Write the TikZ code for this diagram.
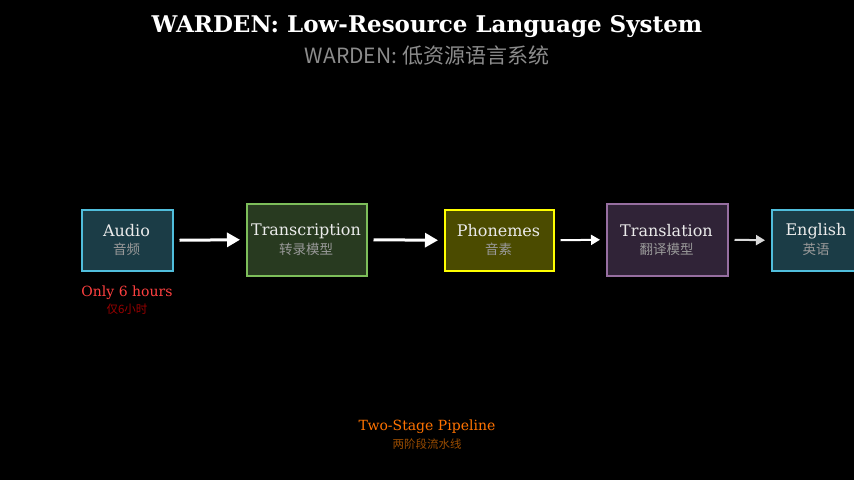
\documentclass[tikz,border=0pt]{standalone}
\usepackage{fontspec}
\setmainfont{DejaVu Serif}
\newfontfamily\cjk{Noto Sans CJK SC}
\usetikzlibrary{arrows.meta}
\definecolor{ab}{RGB}{80,190,220}\definecolor{af}{RGB}{27,60,70}
\definecolor{tb}{RGB}{125,190,90}\definecolor{tf}{RGB}{40,58,32}
\definecolor{pb}{RGB}{255,255,0}\definecolor{pf}{RGB}{75,75,0}
\definecolor{rb}{RGB}{150,110,160}\definecolor{rf}{RGB}{48,35,55}
\begin{document}
\begin{tikzpicture}[x=1pt,y=-1pt,
  box/.style={draw=#1,line width=1.5pt,inner sep=0pt,anchor=north west},
  lbl/.style={text=white!92!black,font=\fontsize{16}{18}\selectfont},
  sub/.style={text=gray!80!white,font=\cjk\fontsize{13.5}{15}\selectfont},
  arr/.style={draw=white,-{Triangle[length=13pt,width=14pt]},line width=3pt},
  arr2/.style={draw=white,-{Triangle[length=9pt,width=10pt]},line width=2pt}]
\fill[black] (0,0) rectangle (854,480);
\useasboundingbox (0,0) rectangle (854,480);
\node[font=\bfseries\fontsize{23}{26}\selectfont,text=white] (t) at (427,27) {WARDEN: Low-Resource Language System};
\node[font=\cjk\fontsize{21}{24}\selectfont,text=gray!90!white] (st) at (427,56) {WARDEN: 低资源语言系统};
\node[box=ab,fill=af,minimum width=91pt,minimum height=61pt] (a) at (81,209) {};
\node[box=tb,fill=tf,minimum width=120pt,minimum height=72pt] (b) at (246,203) {};
\node[box=pb,fill=pf,minimum width=109pt,minimum height=61pt] (c) at (444,209) {};
\node[box=rb,fill=rf,minimum width=121pt,minimum height=72pt] (d) at (606,203) {};
\node[box=ab,fill=af,minimum width=90pt,minimum height=61pt] (e) at (771,209) {};
\foreach \n/\x/\m/\s in {a/126.5/Audio/音频,b/306/Transcription/转录模型,c/498.5/Phonemes/音素,d/666.5/Translation/翻译模型,e/816/English/英语}{
  \node[lbl] at (\x,231) {\m};
  \node[sub] at (\x,249) {\s};
}
\draw[arr] ([xshift=6pt]a.east) -- ([xshift=-6pt]b.west);
\draw[arr] ([xshift=6pt]b.east) -- ([xshift=-6pt]c.west);
\draw[arr2] ([xshift=6pt]c.east) -- ([xshift=-6pt]d.west);
\draw[arr2,draw=white!85!black] ([xshift=6pt]d.east) -- ([xshift=-6pt]e.west);
\node[text=red!75!white,font=\fontsize{14}{16}\selectfont] (o) at (127,293) {Only 6 hours};
\node[text=red!60!black,font=\cjk\fontsize{11.5}{13}\selectfont] (o2) at (127,309) {仅6小时};
\node[text=orange!90!red,font=\fontsize{14}{16}\selectfont] (p) at (427,427) {Two-Stage Pipeline};
\node[text=orange!60!black,font=\cjk\fontsize{11.5}{13}\selectfont] (p2) at (427,444) {两阶段流水线};
\end{tikzpicture}
\end{document}
